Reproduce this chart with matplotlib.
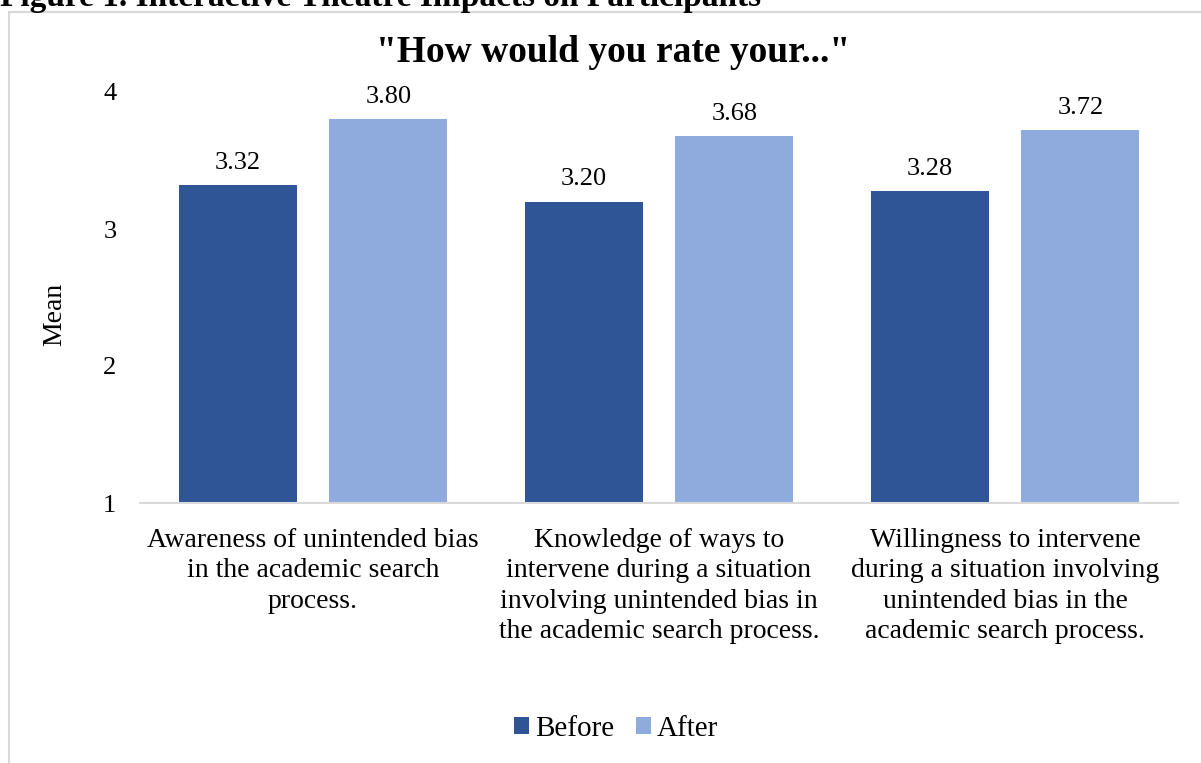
import matplotlib
matplotlib.use("Agg")
import matplotlib.pyplot as plt
from matplotlib.patches import Rectangle, Patch
import numpy as np

categories = [
    "Awareness of unintended bias\nin the academic search\nprocess.",
    "Knowledge of ways to\nintervene during a situation\ninvolving unintended bias in\nthe academic search process.",
    "Willingness to intervene\nduring a situation involving\nunintended bias in the\nacademic search process.",
]
before = [3.32, 3.20, 3.28]
after = [3.80, 3.68, 3.72]
yticks = [1, 2, 3, 4]

C_BEFORE = "#2F5597"
C_AFTER = "#8FAADC"
SERIF = ["Liberation Serif", "DejaVu Serif"]

plt.rcParams["font.family"] = SERIF

W, H = 1201, 763
fig = plt.figure(figsize=(W / 100, H / 100), dpi=100)

# chart frame (extends past the right and bottom edges)
fig.patches.append(Rectangle((9 / W, -0.1), 1.2, 1 - 12 / H + 0.1,
                             transform=fig.transFigure, fill=False,
                             edgecolor="#d9d9d9", linewidth=1.5, zorder=0))

fig.text(0, 1 - 6 / H, "Figure 1. Interactive Theatre Impacts on Participants",
         fontsize=24, fontweight="bold", ha="left", va="baseline")

ax = fig.add_axes([140 / W, 1 - 503 / H, (1178 - 140) / W, (503 - 92) / H])

x = np.arange(len(categories))
off = 0.218
bw = 0.341
ax.bar(x - off, before, bw, bottom=0, color=C_BEFORE, zorder=2)
ax.bar(x + off, after, bw, bottom=0, color=C_AFTER, zorder=2)

for xs, vals in ((x - off, before), (x + off, after)):
    for xi, v in zip(xs, vals):
        ax.annotate(f"{v:.2f}", (xi, v), xytext=(0, 8), textcoords="offset points",
                    ha="center", va="bottom", fontsize=19)

ax.set_xlim(-0.5, len(categories) - 0.5)
ax.set_ylim(1, 4)
ax.set_yticks(yticks)
ax.set_yticklabels([str(t) for t in yticks], fontsize=19)
ax.set_xticks(x)
ax.set_xticklabels(categories, fontsize=20, linespacing=1.28, va="top")
ax.tick_params(axis="both", length=0)
ax.tick_params(axis="y", pad=17)
ax.tick_params(axis="x", pad=18)
for s in ("top", "right", "left"):
    ax.spines[s].set_visible(False)
ax.spines["bottom"].set_color("#d9d9d9")
ax.spines["bottom"].set_linewidth(1.5)

fig.text(55 / W, 1 - 314 / H, "Mean", fontsize=20, rotation=90,
         ha="center", va="center")

fig.text(613 / W, 1 - 52 / H, '"How would you rate your..."', fontsize=27,
         fontweight="bold", ha="center", va="center")

handles = [Patch(facecolor=C_BEFORE), Patch(facecolor=C_AFTER)]
fig.legend(handles, ["Before", "After"], loc="center", bbox_to_anchor=(616 / W, 1 - 729 / H),
           ncol=2, frameon=False, fontsize=21, handlelength=0.52, handleheight=0.52,
           handletextpad=0.2, columnspacing=0.76)

fig.savefig("out.png", dpi=100)
